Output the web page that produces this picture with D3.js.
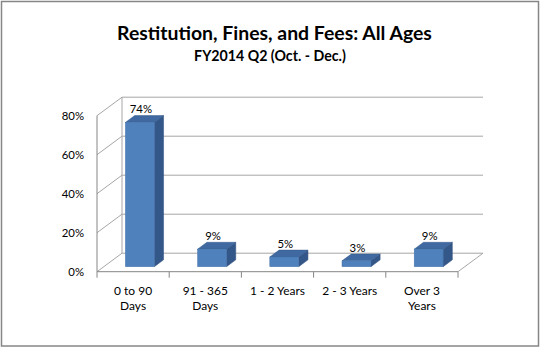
<!DOCTYPE html>
<html><head><meta charset="utf-8">
<script src="https://cdn.jsdelivr.net/npm/d3@7"></script>
<style>body{margin:0;background:#fff}svg{display:block}</style>
</head><body>
<svg id="c" width="541" height="349"></svg>
<script>
const categories = [["0 to 90","Days"],["91 - 365","Days"],["1 - 2 Years"],["2 - 3 Years"],["Over 3","Years"]];
const values = [0.74, 0.09, 0.05, 0.03, 0.09];
const valueLabels = ["74%","9%","5%","3%","9%"];
const yTicks = [0, 0.2, 0.4, 0.6, 0.8];
const title = "Restitution, Fines, and Fees: All Ages";
const subtitle = "FY2014 Q2 (Oct. - Dec.)";

const svg = d3.select("#c");
const FONT = "Lato, 'Noto Sans', sans-serif";
const DX = 25, DY = -18.5;               // full depth offset
const Z0 = 0.27, Z1 = 0.64;              // bar depth span
const keys = categories.map((c,i)=>i);
const x = d3.scaleBand().domain(keys).range([97, 458]).paddingInner(0).paddingOuter(0);
const y = d3.scaleLinear().domain([0, 0.8]).range([271.7, 115.7]);
const off = z => [DX*z, DY*z];

function fitSize(text, target, weight){
  const t = svg.append("text").attr("font-family",FONT).attr("font-weight",weight||"normal").attr("font-size",100).text(text);
  const w = t.node().getComputedTextLength(); t.remove();
  return 100*target/w;
}

// border
svg.append("rect").attr("x",1.5).attr("y",1.5).attr("width",537).attr("height",344.5)
  .attr("fill","#fff").attr("stroke","#868686").attr("stroke-width",1.5);

const grid = "#a6a6a6";
const g = svg.append("g");
const [bx, by] = off(1);
yTicks.forEach(t=>{
  g.append("line").attr("x1",x.range()[0]+bx).attr("x2",x.range()[1]+bx)
   .attr("y1",y(t)+by).attr("y2",y(t)+by).attr("stroke",grid).attr("stroke-width",1);
  g.append("line").attr("x1",x.range()[0]).attr("y1",y(t))
   .attr("x2",x.range()[0]+bx).attr("y2",y(t)+by).attr("stroke",grid).attr("stroke-width",1);
});
g.append("line").attr("x1",x.range()[0]+bx).attr("x2",x.range()[0]+bx)
 .attr("y1",y(0.8)+by).attr("y2",y(0)+by).attr("stroke",grid);
g.append("line").attr("x1",x.range()[1]).attr("y1",y(0))
 .attr("x2",x.range()[1]+bx).attr("y2",y(0)+by).attr("stroke",grid);
g.append("line").attr("x1",x.range()[0]).attr("x2",x.range()[0]).attr("y1",y(0.8)).attr("y2",y(0)).attr("stroke","#868686");
g.append("line").attr("x1",x.range()[0]).attr("x2",x.range()[1]).attr("y1",y(0)).attr("y2",y(0)).attr("stroke","#868686");
d3.range(categories.length+1).forEach(i=>{
  const xx = x.range()[0] + i*x.step();
  g.append("line").attr("x1",xx).attr("x2",xx).attr("y1",y(0)).attr("y2",y(0)+6).attr("stroke","#868686");
});

// bars
const bw = x.bandwidth()/2.5;
const [fx, fy] = off(Z0), [kx, ky] = off(Z1);
const bars = svg.append("g");
values.forEach((v,i)=>{
  const cx = x(i) + x.bandwidth()/2 + fx;
  const l = cx - bw/2, r = cx + bw/2;
  const top = y(v) + fy, bot = y(0) + fy;
  const ddx = kx-fx, ddy = ky-fy;
  bars.append("polygon").attr("points",[[r,top],[r+ddx,top+ddy],[r+ddx,bot+ddy],[r,bot]].join(" "))
    .attr("fill","#34578a").attr("stroke","#2e4d7a").attr("stroke-width",0.5);
  bars.append("polygon").attr("points",[[l,top],[l+ddx,top+ddy],[r+ddx,top+ddy],[r,top]].join(" "))
    .attr("fill","#3f69a0").attr("stroke","#365b8c").attr("stroke-width",0.5);
  bars.append("rect").attr("x",l).attr("y",top).attr("width",bw).attr("height",bot-top)
    .attr("fill","#4f81bd").attr("stroke","#4272ab").attr("stroke-width",0.5);
});

const fsTick = fitSize("1 - 2 Years", 55);
const fsVal = fitSize("80%", 22.3);
values.forEach((v,i)=>{
  const cx = x(i) + x.bandwidth()/2 + fx + 1;
  svg.append("text").attr("x",cx).attr("y",y(v)+ky-2.5).attr("text-anchor","middle")
    .attr("font-family",FONT).attr("font-size",fsVal).attr("fill","#000").text(valueLabels[i]);
});
yTicks.forEach(t=>{
  svg.append("text").attr("x",84).attr("y",y(t)+4).attr("text-anchor","end")
    .attr("font-family",FONT).attr("font-size",fsVal).attr("fill","#000").text(d3.format(".0%")(t));
});
categories.forEach((lines,i)=>{
  const t = svg.append("text").attr("text-anchor","middle").attr("font-family",FONT)
    .attr("font-size",fsTick).attr("fill","#000");
  lines.forEach((ln,j)=>t.append("tspan").attr("x",x(i)+x.bandwidth()/2).attr("y",295+j*15).text(ln));
});
svg.append("text").attr("x",274.5).attr("y",40).attr("text-anchor","middle").attr("font-family",FONT)
  .attr("font-weight","bold").attr("font-size",fitSize(title,315,"bold")).text(title);
svg.append("text").attr("x",270).attr("y",60.5).attr("text-anchor","middle").attr("font-family",FONT)
  .attr("font-weight","bold").attr("font-size",fitSize(subtitle,152,"bold")).text(subtitle);
</script>
</body></html>
